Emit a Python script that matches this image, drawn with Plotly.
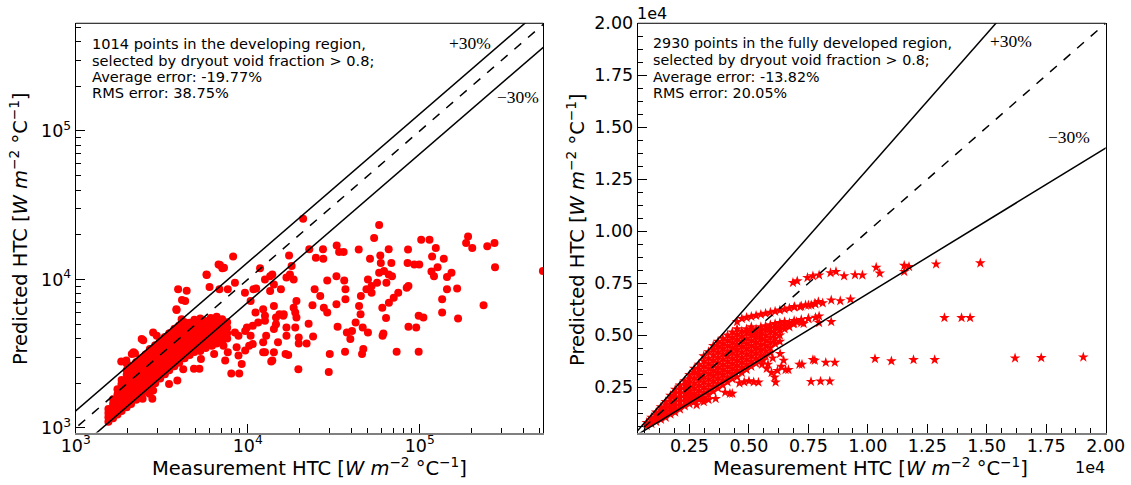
import plotly.graph_objects as go
import math

# ---------------- Left panel data (developing region), W m^-2 C^-1 ----------------
# dense band: column positions (measurement) and predicted values in each column
left_core_meas = [1550, 1650, 1750, 1850, 1980, 2100, 2250, 2400, 2550, 2700, 2900, 3100,
                  3300, 3500, 3750, 4000, 4300, 4600, 4900, 5300, 5700, 6100, 6600, 7100, 7600]
left_core_pred = [
    [1100, 1180, 1260, 1340],
    [1160, 1250, 1350, 1450, 1560],
    [1230, 1330, 1440, 1550, 1680, 1820],
    [1300, 1410, 1530, 1660, 1800, 1950, 2100],
    [1380, 1500, 1630, 1770, 1920, 2090, 2280, 2450],
    [1450, 1580, 1720, 1870, 2030, 2210, 2400, 2600],
    [1550, 1690, 1840, 2000, 2170, 2360, 2570, 2780],
    [1650, 1800, 1960, 2130, 2320, 2520, 2740, 2950],
    [1750, 1900, 2070, 2250, 2450, 2670, 2900, 3120],
    [1900, 2070, 2250, 2450, 2670, 2900, 3150, 3400],
    [2000, 2180, 2370, 2580, 2800, 3050, 3320, 3600],
    [2150, 2350, 2560, 2780, 3020, 3280, 3560, 3850],
    [2300, 2500, 2720, 2960, 3220, 3500, 3800, 4100],
    [2450, 2660, 2900, 3150, 3420, 3720, 4050, 4350],
    [2600, 2830, 3080, 3350, 3640, 3960, 4300, 4650],
    [2750, 3000, 3260, 3550, 3860, 4200, 4550, 4900],
    [2950, 3210, 3490, 3790, 4120, 4480, 4850, 5150],
    [3100, 3370, 3660, 3980, 4330, 4700, 5100],
    [3250, 3530, 3840, 4170, 4530, 4920, 5350],
    [3300, 3590, 3900, 4240, 4600, 5000, 5450],
    [3450, 3750, 4080, 4430, 4820, 5240],
    [3600, 3910, 4250, 4620, 5020, 5500],
    [3700, 4020, 4370, 4750, 5160, 5600],
    [3850, 4180, 4550, 4950, 5400],
    [4000, 4350, 4730, 5150],
]
# scattered points
left_out_meas = [21000, 58100, 54300, 191000, 102000, 114000, 272000, 247000, 202000, 186000,
                 124000, 85500, 66000, 44200, 32900, 27400, 22800, 24900, 27500, 34000,
                 36100, 51400, 59000, 59400, 68400, 85000, 93000, 99400, 118000, 138000,
                 127000, 144000, 117000, 121000, 153000, 144000, 165000, 135000, 135000, 167000,
                 235000, 274000, 520000, 98600, 73400, 95400, 86000, 98600, 105000, 86000,
                 84000, 75000, 70600, 66200, 60600, 63700, 61500, 60800, 58100, 50000,
                 62000, 66000, 69000, 64000, 56500, 52500, 49000, 52500, 45500, 44400,
                 45300, 42400, 46600, 50000, 40400, 37700, 39500, 36800, 47000, 46200,
                 30000, 29600, 19700, 33300, 32800, 37000, 37000, 29000, 27700, 26400,
                 32800, 36400, 29000, 24500, 23800, 24000, 22000, 22600, 19800, 19800,
                 18900, 19200, 18900, 18500, 19200, 16800, 16800, 17200, 16600, 18000,
                 17600, 18500, 17400, 16800, 15600, 16200, 16100, 15300, 14200, 13900,
                 13700, 15000, 14600, 14200, 14600, 14200, 13500, 14200, 13500, 13900,
                 12600, 11800, 12300, 12600, 12600, 12800, 12300, 12300, 12600, 10700,
                 10200, 10400, 9900, 10700, 11500, 11100, 10400, 10800, 11200, 9640,
                 8230, 9230, 8030, 8930, 7400, 7120, 6770, 5760, 6000, 6850,
                 3940, 4330, 3850, 4130, 7660, 8430, 9670, 8430, 8840, 8620,
                 9670, 8840, 7660, 7230, 6890, 6200, 6380, 6050, 5350, 5240,
                 4870, 4220, 3900, 3490, 2820, 2690, 2790, 2450, 2330, 2120,
                 1750, 1590, 1560, 1710, 1840, 1970, 2120, 2170, 2420, 2170,
                 2820, 2960, 2470, 2213, 1980, 1850, 6900, 7280, 5780, 4420,
                 4150, 3860]
left_out_pred = [25600, 23300, 19000, 19500, 18500, 18500, 17600, 16700, 16300, 17600,
                 16300, 15900, 16000, 15900, 16900, 16000, 16000, 14000, 13800, 15300,
                 15300, 13800, 14500, 12900, 12900, 12900, 12600, 12600, 14300, 13800,
                 12100, 10400, 11300, 10500, 11100, 8600, 8700, 7350, 5980, 5450,
                 6700, 12100, 11400, 3260, 3260, 4750, 4800, 5690, 5550, 9030,
                 8800, 8140, 7540, 6980, 6460, 5490, 4330, 4170, 11100, 10000,
                 11400, 10800, 10500, 9500, 9500, 9030, 8600, 8140, 7740, 6630,
                 5830, 5130, 4750, 4400, 4500, 4400, 3970, 3260, 3400, 3150,
                 3150, 2380, 2480, 4800, 6800, 7350, 8600, 5980, 6460, 7740,
                 10500, 9850, 9850, 8600, 6700, 4130, 3710, 5040, 3710, 4060,
                 4750, 5550, 5980, 6460, 7170, 4750, 4170, 3100, 3150, 12300,
                 10800, 10000, 14500, 10300, 8600, 5830, 5690, 5830, 3230, 2840,
                 2800, 3770, 5000, 4640, 5550, 6630, 8360, 9260, 10500, 10800,
                 10000, 11900, 6300, 5690, 5270, 4170, 3770, 3230, 3230, 3670,
                 3580, 4170, 4750, 4870, 5130, 5980, 7170, 8600, 8700, 8140,
                 14300, 2700, 2330, 2330, 2840, 11900, 12600, 10800, 8890, 8600,
                 8600, 7170, 6300, 5400, 8600, 9500, 4500, 4400, 4170, 3490,
                 3320, 3070, 3230, 3580, 4060, 3580, 3150, 3970, 2910, 2500,
                 2500, 2480, 2090, 1980, 1790, 1700, 1570, 1570, 1830, 1610,
                 1500, 1280, 1210, 1400, 2800, 2840, 3150, 2570, 3970, 3230,
                 4400, 4170, 3900, 3170, 2720, 1990, 12530, 11970, 10720, 8400,
                 7270, 6220]

# ---------------- Right panel data (fully developed region), units of 1e4 W m^-2 C^-1 ----------------
right_core_meas = [0.07, 0.09, 0.11, 0.13, 0.15, 0.17, 0.19, 0.21, 0.23, 0.25, 0.27, 0.29,
                   0.31, 0.33, 0.35, 0.37, 0.39, 0.41, 0.43, 0.45, 0.47, 0.49, 0.51, 0.53,
                   0.55, 0.57, 0.59, 0.61, 0.63, 0.65, 0.67, 0.69, 0.72, 0.75, 0.78, 0.81]
right_core_pred = [
    [0.065, 0.08],
    [0.075, 0.09, 0.105],
    [0.085, 0.10, 0.115, 0.13],
    [0.095, 0.11, 0.125, 0.14, 0.155],
    [0.105, 0.12, 0.135, 0.15, 0.165, 0.18],
    [0.12, 0.135, 0.15, 0.165, 0.18, 0.195, 0.21],
    [0.13, 0.145, 0.16, 0.18, 0.20, 0.22, 0.24],
    [0.145, 0.16, 0.18, 0.20, 0.22, 0.24, 0.26],
    [0.16, 0.18, 0.20, 0.22, 0.24, 0.26, 0.28],
    [0.17, 0.19, 0.21, 0.23, 0.25, 0.27, 0.29, 0.31],
    [0.18, 0.20, 0.22, 0.245, 0.27, 0.295, 0.32, 0.34],
    [0.19, 0.21, 0.235, 0.26, 0.285, 0.31, 0.335, 0.36],
    [0.20, 0.225, 0.25, 0.275, 0.30, 0.325, 0.35, 0.375, 0.40],
    [0.215, 0.24, 0.265, 0.29, 0.315, 0.34, 0.365, 0.39, 0.42],
    [0.23, 0.255, 0.28, 0.305, 0.33, 0.355, 0.38, 0.405, 0.43, 0.45],
    [0.245, 0.27, 0.295, 0.32, 0.345, 0.37, 0.395, 0.42, 0.445, 0.47],
    [0.26, 0.285, 0.31, 0.335, 0.36, 0.385, 0.41, 0.435, 0.46, 0.485],
    [0.275, 0.30, 0.325, 0.35, 0.375, 0.40, 0.425, 0.45, 0.475, 0.50],
    [0.29, 0.315, 0.34, 0.365, 0.39, 0.415, 0.44, 0.465, 0.49, 0.515],
    [0.30, 0.33, 0.355, 0.38, 0.405, 0.43, 0.455, 0.48, 0.505, 0.53, 0.565],
    [0.32, 0.345, 0.37, 0.395, 0.42, 0.445, 0.47, 0.495, 0.52, 0.58],
    [0.335, 0.36, 0.385, 0.41, 0.435, 0.46, 0.485, 0.51, 0.53, 0.585],
    [0.35, 0.375, 0.40, 0.425, 0.45, 0.475, 0.50, 0.52, 0.54, 0.59],
    [0.365, 0.39, 0.415, 0.44, 0.465, 0.49, 0.51, 0.53, 0.595],
    [0.38, 0.405, 0.43, 0.455, 0.48, 0.50, 0.52, 0.54, 0.60],
    [0.40, 0.425, 0.45, 0.475, 0.50, 0.525, 0.545, 0.605],
    [0.415, 0.44, 0.465, 0.49, 0.515, 0.535, 0.55, 0.61],
    [0.46, 0.485, 0.51, 0.535, 0.555, 0.615],
    [0.47, 0.50, 0.525, 0.545, 0.56, 0.62],
    [0.53, 0.55, 0.565, 0.625],
    [0.54, 0.56, 0.63],
    [0.555, 0.57, 0.635],
    [0.56, 0.575, 0.64],
    [0.58, 0.645],
    [0.585, 0.65],
    [0.655],
]
right_out_meas = [1.473, 1.287, 1.153, 1.173, 1.153, 1.035, 1.05, 0.977, 0.946, 0.90,
                  0.866, 0.843, 0.795, 0.769, 0.746, 0.703, 0.685, 1.322, 1.394, 1.43,
                  1.906, 1.729, 1.619, 1.281, 1.192, 1.099, 1.03, 0.861, 0.823, 0.777,
                  0.769, 0.723, 0.712, 0.84, 0.801, 0.761, 0.927, 0.884, 0.846, 0.846,
                  0.795, 0.795, 0.792, 0.777, 0.762, 0.738, 0.715, 0.692, 0.75, 0.73,
                  0.70, 0.685, 0.646, 0.636, 0.62, 0.608, 0.612, 0.666, 0.654, 0.631,
                  0.60, 0.58, 0.56, 0.46, 0.48, 0.50, 0.52, 0.54, 0.42, 0.43,
                  0.40, 0.36, 0.33, 0.31, 0.28, 0.555, 0.575, 0.595]
right_out_pred = [0.847, 0.842, 0.835, 0.83, 0.806, 0.826, 0.798, 0.789, 0.79, 0.785,
                  0.806, 0.80, 0.789, 0.785, 0.777, 0.761, 0.753, 0.584, 0.584, 0.584,
                  0.395, 0.392, 0.39, 0.382, 0.382, 0.376, 0.387, 0.369, 0.369, 0.379,
                  0.382, 0.36, 0.36, 0.279, 0.279, 0.277, 0.673, 0.665, 0.669, 0.565,
                  0.592, 0.56, 0.661, 0.653, 0.645, 0.645, 0.637, 0.637, 0.58, 0.556,
                  0.565, 0.556, 0.379, 0.35, 0.33, 0.298, 0.274, 0.334, 0.334, 0.411,
                  0.39, 0.36, 0.38, 0.27, 0.275, 0.28, 0.275, 0.274, 0.22, 0.22,
                  0.225, 0.195, 0.19, 0.18, 0.165, 0.36, 0.34, 0.32]

right_scale = 1e4
left_range_meas = [1000, 523000]
left_range_pred = [930, 531000]
right_range = [320, 20000]
bands = [1.3, 1.0, 0.7]

left_lines = ["1014 points in the developing region,", "selected by dryout void fraction > 0.8;",
              "Average error: -19.77%", "RMS error: 38.75%"]
right_lines = ["2930 points in the fully developed region,", "selected by dryout void fraction > 0.8;",
               "Average error: -13.82%", "RMS error: 20.05%"]
unit = "[<i>W</i> <i>m</i><sup>−2</sup> °C<sup>−1</sup>]"
x_title = "Measurement HTC " + unit
y_title = "Predicted HTC " + unit

# ---------------- assemble ----------------
lx, ly = [], []
for xv, ys in zip(left_core_meas, left_core_pred):
    for yv in ys:
        lx.append(xv); ly.append(yv)
lx += left_out_meas; ly += left_out_pred

rx, ry = [], []
for xv, ys in zip(right_core_meas, right_core_pred):
    for yv in ys:
        rx.append(xv * right_scale); ry.append(yv * right_scale)
rx += [v * right_scale for v in right_out_meas]
ry += [v * right_scale for v in right_out_pred]

RED = "#ff0000"
fig = go.Figure()
fig.add_trace(go.Scatter(x=lx, y=ly, mode="markers", xaxis="x", yaxis="y",
                         marker=dict(color=RED, size=8, symbol="circle", line=dict(width=0)),
                         showlegend=False, hoverinfo="skip"))
fig.add_trace(go.Scatter(x=rx, y=ry, mode="markers", xaxis="x2", yaxis="y2",
                         marker=dict(color=RED, size=8, symbol="star", line=dict(width=0)),
                         showlegend=False, hoverinfo="skip"))

for k in bands:
    dash = "dash" if k == 1.0 else "solid"
    xs = [500, 1e6]
    fig.add_trace(go.Scatter(x=xs, y=[k * v for v in xs], mode="lines", xaxis="x", yaxis="y",
                             line=dict(color="black", width=1.5, dash=dash), showlegend=False,
                             hoverinfo="skip"))
    xs2 = [0, 25000]
    fig.add_trace(go.Scatter(x=xs2, y=[k * v for v in xs2], mode="lines", xaxis="x2", yaxis="y2",
                             line=dict(color="black", width=1.5, dash=dash), showlegend=False,
                             hoverinfo="skip"))

tickfont = dict(family="DejaVu Sans", size=17.5, color="black")
log_minor = [m * 10 ** e for e in (3, 4, 5) for m in range(2, 10)]
lin_vals = [2500 * i for i in range(1, 9)]
lin_text = ["%.2f" % (v / 1e4) for v in lin_vals]

common = dict(ticks="inside", ticklen=9, tickwidth=1, tickcolor="black", showgrid=False,
              zeroline=False, tickfont=tickfont, automargin=False)
fig.update_layout(
    width=1131, height=485, margin=dict(l=0, r=0, t=0, b=0, autoexpand=False),
    paper_bgcolor="white", plot_bgcolor="white",
    xaxis=dict(domain=[0.0669, 0.4804], type="log", anchor="y",
               range=[math.log10(left_range_meas[0]), math.log10(left_range_meas[1])],
               tickvals=[1e3, 1e4, 1e5], ticktext=["10<sup>3</sup>", "10<sup>4</sup>", "10<sup>5</sup>"],
               showline=True, linecolor="#808080", linewidth=2, mirror=False, ticklabelstandoff=-4,
               minor=dict(tickvals=log_minor, ticks="inside", ticklen=5, tickcolor="black"), **common),
    yaxis=dict(domain=[0.108, 0.952], type="log", anchor="x",
               range=[math.log10(left_range_pred[0]), math.log10(left_range_pred[1])],
               tickvals=[1e3, 1e4, 1e5], ticktext=["10<sup>3</sup>", "10<sup>4</sup>", "10<sup>5</sup>"],
               showline=True, linecolor="black", linewidth=1, mirror=True,
               minor=dict(tickvals=log_minor, ticks="inside", ticklen=5, tickcolor="black"), **common),
    xaxis2=dict(domain=[0.5638, 0.9776], anchor="y2", range=right_range,
                tickvals=lin_vals, ticktext=lin_text, ticklabelstandoff=-4,
                showline=True, linecolor="#808080", linewidth=2, mirror=False,
                minor=dict(dtick=625, tick0=0, ticks="inside", ticklen=5, tickcolor="black"), **common),
    yaxis2=dict(domain=[0.108, 0.952], anchor="x2", range=right_range,
                tickvals=lin_vals, ticktext=lin_text,
                showline=True, linecolor="black", linewidth=1, mirror=True,
                minor=dict(dtick=625, tick0=0, ticks="inside", ticklen=5, tickcolor="black"), **common),
)

# top spines
for xr, yr in (("x domain", "y domain"), ("x2 domain", "y2 domain")):
    fig.add_shape(type="line", xref=xr, yref=yr, x0=0, x1=1, y0=1, y1=1,
                  line=dict(color="black", width=1))

def px2paper_x(px):
    return px / 1131.0

def px2paper_y(py):
    return (485.0 - py) / 485.0

serif = dict(family="Liberation Serif", size=17.5, color="black")
title_font = dict(family="DejaVu Sans", size=19.5, color="black")
anns = []
line_y = [43, 60, 76.5, 93]
for txt, yy in zip(left_lines, line_y):
    anns.append(dict(text=txt, x=px2paper_x(90), y=px2paper_y(yy), xanchor="left",
                     font=dict(family="DejaVu Sans", size=14.6, color="black")))
for txt, yy in zip(right_lines, line_y):
    anns.append(dict(text=txt, x=px2paper_x(651), y=px2paper_y(yy), xanchor="left",
                     font=dict(family="DejaVu Sans", size=14.3, color="black")))
anns += [
    dict(text="+30%", x=px2paper_x(470), y=px2paper_y(43), font=serif),
    dict(text="−30%", x=px2paper_x(518), y=px2paper_y(97), font=serif),
    dict(text="+30%", x=px2paper_x(1011), y=px2paper_y(41), font=serif),
    dict(text="−30%", x=px2paper_x(1069), y=px2paper_y(137), font=serif),
    dict(text=x_title, x=px2paper_x(309.5), y=px2paper_y(467), font=title_font),
    dict(text=x_title, x=px2paper_x(871), y=px2paper_y(467), font=title_font),
    dict(text=y_title, x=px2paper_x(19), y=px2paper_y(229), textangle=-90, font=title_font),
    dict(text=y_title, x=px2paper_x(576), y=px2paper_y(230), textangle=-90, font=title_font),
    dict(text="1e4", x=px2paper_x(652), y=px2paper_y(13), font=dict(family="DejaVu Sans", size=16, color="black")),
    dict(text="1e4", x=px2paper_x(1090), y=px2paper_y(467), font=dict(family="DejaVu Sans", size=16, color="black")),
]
for a in anns:
    a.setdefault("xanchor", "center")
    a.setdefault("yanchor", "middle")
    fig.add_annotation(xref="paper", yref="paper", showarrow=False, **a)

# remove the browser's default page margin so the figure sits at the window origin
fig.write_html("out.html", config={"displayModeBar": False},
               post_script="document.body.style.margin='0';")
